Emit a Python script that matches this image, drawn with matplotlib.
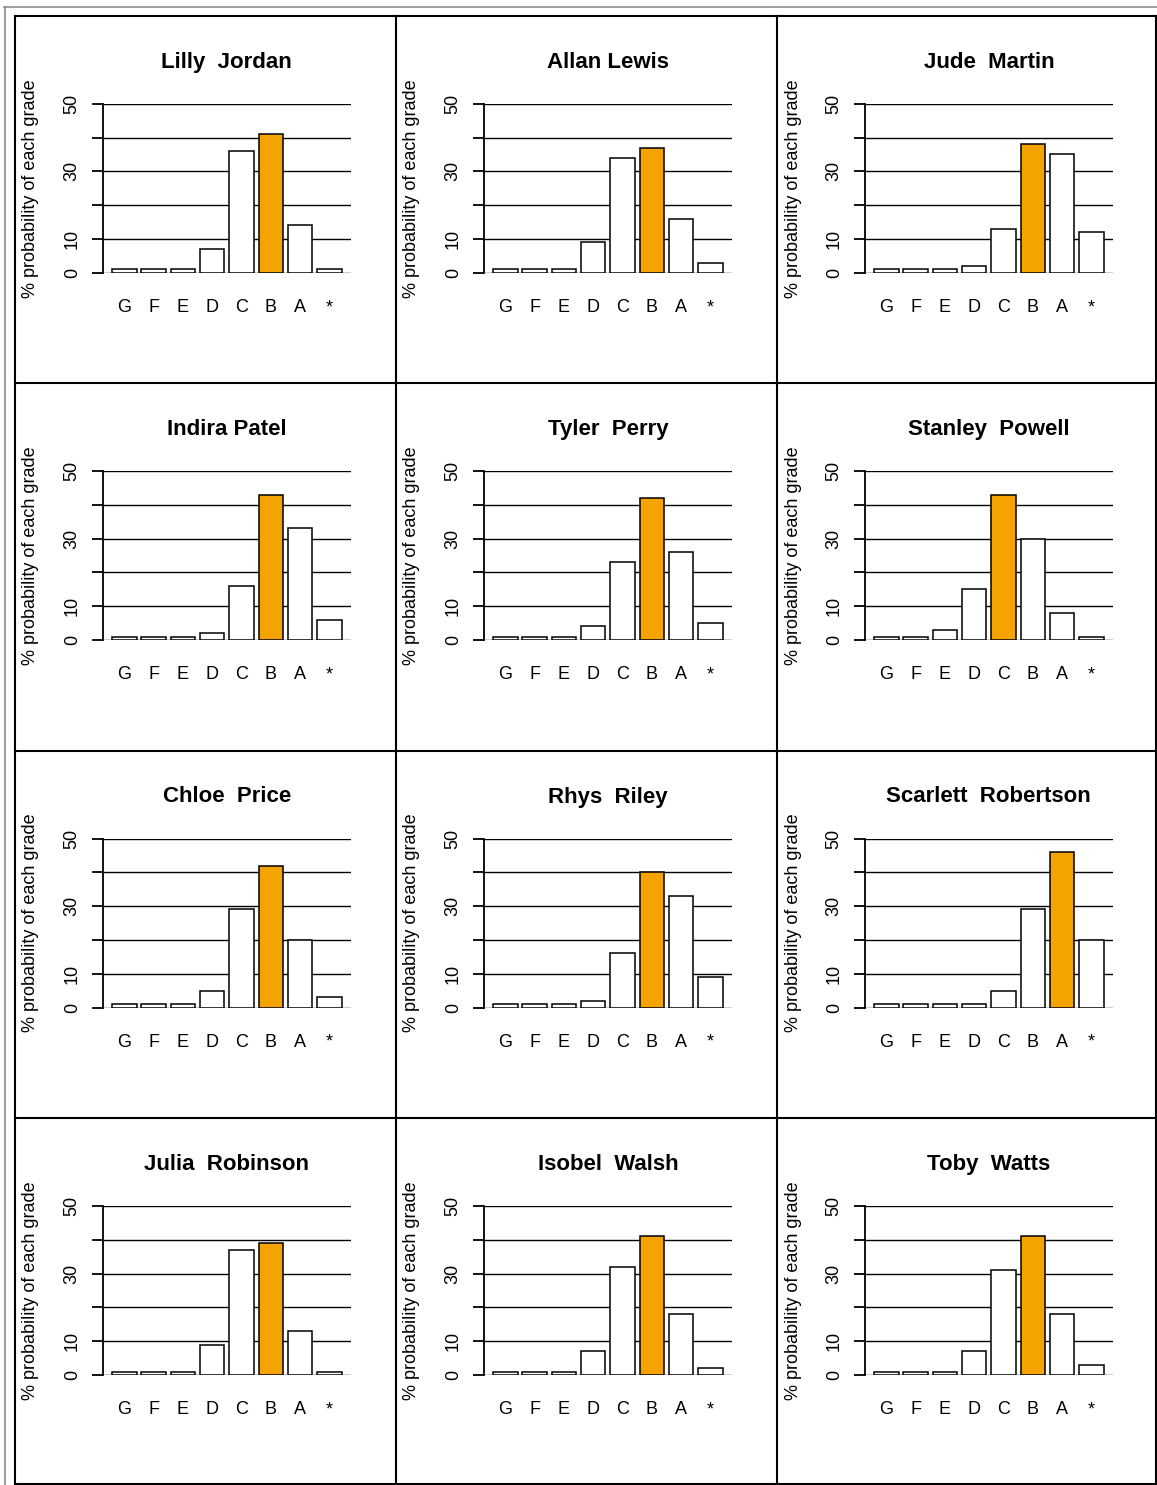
import matplotlib
matplotlib.use("Agg")
import matplotlib.pyplot as plt

plt.rcParams["font.family"] = ["Liberation Sans", "DejaVu Sans"]

# DATA
grades = ["G", "F", "E", "D", "C", "B", "A", "*"]
students = ["Lilly  Jordan", "Allan Lewis", "Jude  Martin",
            "Indira Patel", "Tyler  Perry", "Stanley  Powell",
            "Chloe  Price", "Rhys  Riley", "Scarlett  Robertson",
            "Julia  Robinson", "Isobel  Walsh", "Toby  Watts"]

lilly = [1, 1, 1, 7, 36, 41, 14, 1]
allan = [1, 1, 1, 9, 34, 37, 16, 3]
jude = [1, 1, 1, 2, 13, 38, 35, 12]
indira = [1, 1, 1, 2, 16, 43, 33, 6]
tyler = [1, 1, 1, 4, 23, 42, 26, 5]
stanley = [1, 1, 3, 15, 43, 30, 8, 1]
chloe = [1, 1, 1, 5, 29, 42, 20, 3]
rhys = [1, 1, 1, 2, 16, 40, 33, 9]
scarlett = [1, 1, 1, 1, 5, 29, 46, 20]
julia = [1, 1, 1, 9, 37, 39, 13, 1]
isobel = [1, 1, 1, 7, 32, 41, 18, 2]
toby = [1, 1, 1, 7, 31, 41, 18, 3]

# most likely grade for each student (highlighted bar)
predicted = ["B", "B", "B", "B", "B", "C", "B", "B", "A", "B", "B", "B"]

probs = [lilly, allan, jude, indira, tyler, stanley,
         chloe, rhys, scarlett, julia, isobel, toby]

# LAYOUT (pixels)
W, H = 1157, 1485
col_x = [15, 396, 777]
row_y = [15.7, 383, 750.5, 1118]
ax_off_x, ax_off_y = 88, 257      # from cell corner to plot origin (x left, y of zero line)
ax_w, ax_h = 247.7, 169

orange = "#F5A300"

fig = plt.figure(figsize=(W / 100, H / 100), dpi=100)

# panel frames
bg = fig.add_axes([0, 0, 1, 1])
bg.set_xlim(0, W)
bg.set_ylim(H, 0)
bg.axis("off")
bg.plot([4, W], [7, 7], color="#8c8c8c", lw=1.2)
bg.plot([5, 5], [7, H], color="#8c8c8c", lw=1.2)
for x in col_x + [1156]:
    bg.plot([x, x], [15.5, 1484], color="black", lw=1.5)
for y in row_y + [1484]:
    bg.plot([15, 1156], [y, y], color="black", lw=1.5)

xpos = [0.7 + 1.2 * i for i in range(len(grades))]

for k, name in enumerate(students):
    r, c = divmod(k, 3)
    left = (col_x[c] + ax_off_x) / W
    bottom = 1 - (row_y[r] + ax_off_y) / H
    ax = fig.add_axes([left, bottom, ax_w / W, ax_h / H])

    colors = [orange if g == predicted[k] else "white" for g in grades]
    for yv in range(0, 60, 10):
        ax.axhline(yv, color="black", lw=1.0, zorder=1)
    ax.bar(xpos, probs[k], width=1.0, color=colors, edgecolor="black",
           linewidth=1.1, zorder=2)

    ax.set_xlim(-0.176, 9.976)
    ax.set_ylim(0, 50)
    for s in ["top", "right", "bottom"]:
        ax.spines[s].set_visible(False)
    ax.spines["left"].set_linewidth(1.3)

    ax.set_yticks(range(0, 60, 10))
    ax.set_yticklabels(["0", "10", "", "30", "", "50"], rotation=90, va="center")
    ax.tick_params(axis="y", length=8, width=1.3, pad=8, labelsize=13)
    ax.set_xticks(xpos)
    ax.set_xticklabels(grades)
    ax.tick_params(axis="x", length=0, pad=19, labelsize=13)

    ax.set_ylabel("% probability of each grade", fontsize=13)
    ax.yaxis.label.set_va("center")
    ax.yaxis.set_label_coords(-72 / ax_w, 0.5)

    ax.text(0.5, 1 + 36 / ax_h, name, transform=ax.transAxes,
            ha="center", va="baseline", fontsize=16, fontweight="bold")

fig.savefig("out.png", dpi=100)
